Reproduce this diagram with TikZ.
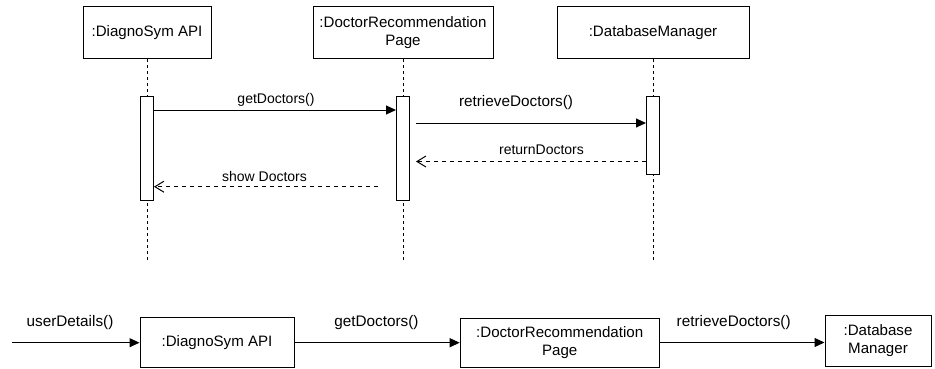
\documentclass[tikz,border=0pt]{standalone}
\usepackage{fontspec}
\setmainfont{Liberation Sans}
\usetikzlibrary{arrows.meta}
\tikzset{
  lbox/.style={draw, line width=1pt, fill=white, inner sep=0pt, align=center,
    font=\fontsize{15.1}{17.7}\selectfont},
  actbox/.style={draw, line width=1pt, fill=white, minimum width=13pt, inner sep=0pt},
  life/.style={line width=1pt, dash pattern=on 3pt off 3pt},
  call/.style={line width=1pt, -{Triangle[length=10pt,width=9pt]}},
  reply/.style={line width=1pt, dash pattern=on 4pt off 4pt,
    -{Straight Barb[length=9pt,width=11pt]}},
  msglbl/.style={inner sep=0pt, font=\fontsize{14}{16}\selectfont},
  biglbl/.style={inner sep=0pt, font=\fontsize{15.3}{17}\selectfont},
}
\begin{document}
\begin{tikzpicture}[x=1pt, y=-1pt]
\useasboundingbox (0,0) rectangle (935,369);

% ---------- sequence diagram ----------
\node[lbox, minimum width=128pt, minimum height=51.5pt] (api) at (147,32.7) {:DiagnoSym API};
\node[lbox, minimum width=180pt, minimum height=51.5pt] (page) at (403,32.7) {:DoctorRecommendation\\Page};
\node[lbox, minimum width=192pt, minimum height=51.5pt] (db) at (653,32.7) {:DatabaseManager};

\coordinate (apiEnd) at (147,262);
\coordinate (pageEnd) at (403,262);
\coordinate (dbEnd) at (653,262);
\draw[life] (api.south) -- (apiEnd);
\draw[life] (page.south) -- (pageEnd);
\draw[life] (db.south) -- (dbEnd);

\node[actbox, minimum height=103pt] (actApi) at (147,148.5) {};
\node[actbox, minimum height=103pt] (actPage) at (403,148.5) {};
\node[actbox, minimum height=77pt] (actDb) at (653,135.5) {};

% getDoctors()
\coordinate (m1s) at (actApi.east |- 0,110);
\coordinate (m1e) at (actPage.west |- 0,110);
\draw[call] (m1s) -- (m1e);
\node[msglbl] (l1) at (276,99.5) {getDoctors()};

% retrieveDoctors()
\coordinate (m2s) at (416,123);
\coordinate (m2e) at (actDb.west |- 0,123);
\draw[call] (m2s) -- (m2e);
\node[biglbl] (l2) at (516,102.5) {retrieveDoctors()};

% returnDoctors
\coordinate (m3s) at (actDb.west |- 0,161.5);
\coordinate (m3e) at (416,161.5);
\draw[reply] (m3s) -- (m3e);
\node[msglbl] (l3) at (541.5,150) {returnDoctors};

% show Doctors
\coordinate (m4s) at (378,186.7);
\coordinate (m4e) at (actApi.east |- 0,186.7);
\draw[reply] (m4s) -- (m4e);
\node[msglbl] (l4) at (264.5,176) {show Doctors};

% ---------- communication chain ----------
\coordinate (src) at (12,342.7);
\node[lbox, minimum width=154pt, minimum height=50pt] (api2) at (217,342.7) {:DiagnoSym API};
\node[lbox, minimum width=199pt, minimum height=49pt] (page2) at (559.7,342.5) {:DoctorRecommendation\\Page};
\node[lbox, minimum width=106pt, minimum height=51pt] (db2) at (878,340.5) {:Database\\Manager};

\draw[call] (src) -- (api2.west);
\draw[call] (api2.east) -- (page2.west |- api2.east);
\draw[call] (page2.east) -- (db2.west |- page2.east);

\node[biglbl] (b1) at (70,322.3) {userDetails()};
\node[biglbl] (b2) at (376.5,322.3) {getDoctors()};
\node[biglbl] (b3) at (733.7,322.3) {retrieveDoctors()};
\end{tikzpicture}
\end{document}
